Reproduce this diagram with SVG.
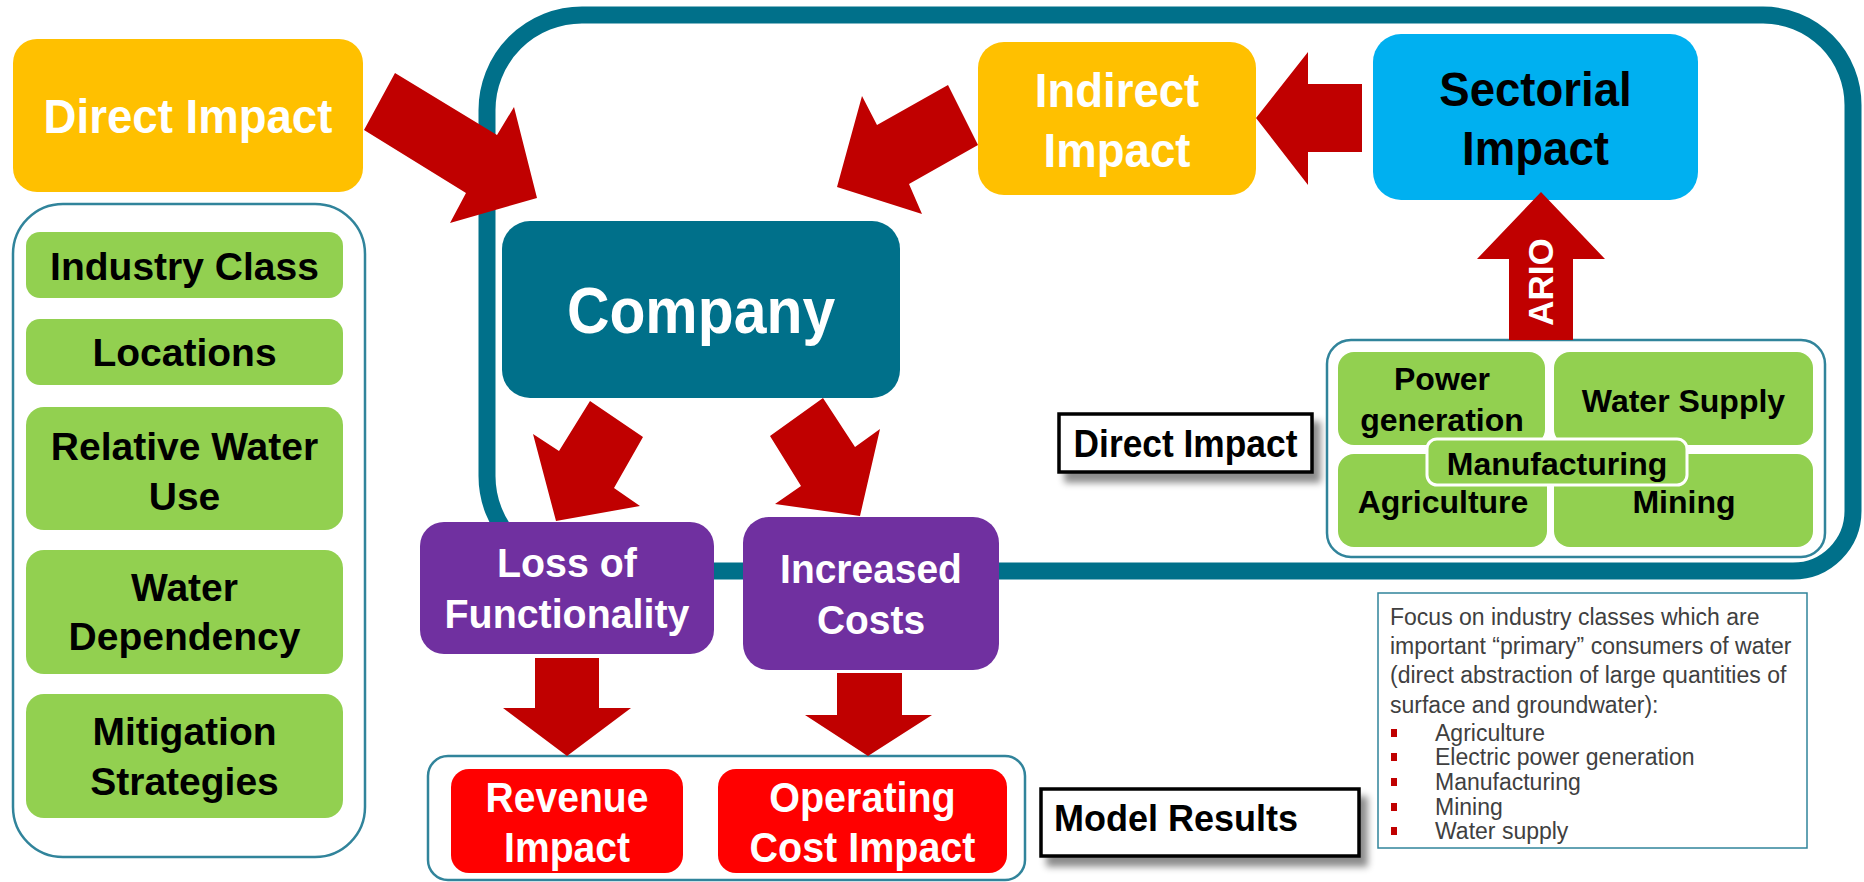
<svg xmlns="http://www.w3.org/2000/svg" width="1864" height="882" viewBox="0 0 1864 882">
  <defs>
    <style>
      .tb { font-family: 'Liberation Sans', Arial, sans-serif; font-weight: bold; text-anchor: middle; }
      .tn { font-family: 'Liberation Sans', Arial, sans-serif; font-size: 23px; fill: #404040; }
      .w { fill: #ffffff; }
      .k { fill: #000000; }
      .yellow { fill: #FFC000; }
      .green { fill: #92D050; }
      .purple { fill: #7030A0; }
      .red { fill: #FF0000; }
      .outline { fill: #ffffff; stroke: #31849B; stroke-width: 2.5; }
      .label { fill: #ffffff; stroke: #000000; stroke-width: 3.5; }
      .arrow { fill: #C00000; }
      .bullet { fill: #C00000; }
    </style>
    <filter id="shadow" x="-10%" y="-20%" width="130%" height="160%">
      <feDropShadow dx="7" dy="9" stdDeviation="3.5" flood-color="#000000" flood-opacity="0.45"/>
    </filter>
  </defs>

  <!-- company boundary frame -->
  <path id="frame" d="M582,15 H1763 A90,90 0 0 1 1853,105 V511 A60,60 0 0 1 1793,571 H582 A95,95 0 0 1 487,476 V110 A95,95 0 0 1 582,15 Z" fill="none" stroke="#00708A" stroke-width="17"/>

  <!-- direct impact (top left) -->
  <g id="direct-impact">
    <rect class="yellow" x="13" y="39" width="350" height="153" rx="24"/>
    <text class="tb w" font-size="48" transform="matrix(0.95,0,0,1,188,0)" x="0" y="133">Direct Impact</text>
  </g>

  <!-- company attributes -->
  <g id="attributes">
    <rect class="outline" x="13" y="204" width="352" height="653" rx="50"/>
    <g id="industry-class">
      <rect class="green" x="26" y="232" width="317" height="66" rx="14"/>
      <text class="tb k" font-size="39" x="184.5" y="280">Industry Class</text>
    </g>
    <g id="locations">
      <rect class="green" x="26" y="319" width="317" height="66" rx="14"/>
      <text class="tb k" font-size="39" x="184.5" y="366">Locations</text>
    </g>
    <g id="relative-water-use">
      <rect class="green" x="26" y="407" width="317" height="123" rx="18"/>
      <text class="tb k" font-size="39" x="184.5" y="460">Relative Water</text>
      <text class="tb k" font-size="39" x="184.5" y="510">Use</text>
    </g>
    <g id="water-dependency">
      <rect class="green" x="26" y="550" width="317" height="124" rx="18"/>
      <text class="tb k" font-size="39" x="184.5" y="601">Water</text>
      <text class="tb k" font-size="39" x="184.5" y="650">Dependency</text>
    </g>
    <g id="mitigation-strategies">
      <rect class="green" x="26" y="694" width="317" height="124" rx="18"/>
      <text class="tb k" font-size="39" x="184.5" y="745">Mitigation</text>
      <text class="tb k" font-size="39" x="184.5" y="795">Strategies</text>
    </g>
  </g>

  <g id="company">
    <rect x="502" y="221" width="398" height="177" rx="28" fill="#00708A"/>
    <text class="tb w" font-size="64" transform="matrix(0.92,0,0,1,701,0)" x="0" y="333">Company</text>
  </g>

  <g id="indirect-impact">
    <rect class="yellow" x="978" y="42" width="278" height="153" rx="26"/>
    <text class="tb w" font-size="49" transform="matrix(0.93,0,0,1,1117,0)" x="0" y="107">Indirect</text>
    <text class="tb w" font-size="49" transform="matrix(0.93,0,0,1,1117,0)" x="0" y="167">Impact</text>
  </g>

  <g id="sectorial-impact">
    <rect x="1373" y="34" width="325" height="166" rx="28" fill="#00B0F0"/>
    <text class="tb k" font-size="49" transform="matrix(0.93,0,0,1,1535.5,0)" x="0" y="106">Sectorial</text>
    <text class="tb k" font-size="49" transform="matrix(0.93,0,0,1,1535.5,0)" x="0" y="165">Impact</text>
  </g>

  <g id="loss-of-functionality">
    <rect class="purple" x="420" y="522" width="294" height="132" rx="24"/>
    <text class="tb w" font-size="41" transform="matrix(0.96,0,0,1,567,0)" x="0" y="577">Loss of</text>
    <text class="tb w" font-size="41" transform="matrix(0.96,0,0,1,567,0)" x="0" y="628">Functionality</text>
  </g>

  <g id="increased-costs">
    <rect class="purple" x="743" y="517" width="256" height="153" rx="26"/>
    <text class="tb w" font-size="41" transform="matrix(0.95,0,0,1,871,0)" x="0" y="583">Increased</text>
    <text class="tb w" font-size="41" transform="matrix(0.95,0,0,1,871,0)" x="0" y="634">Costs</text>
  </g>

  <g id="model-results">
    <rect class="outline" x="428" y="756" width="597" height="124" rx="20"/>
    <g id="revenue-impact">
      <rect class="red" x="451" y="769" width="232" height="104" rx="18"/>
      <text class="tb w" font-size="42" transform="matrix(0.93,0,0,1,567,0)" x="0" y="812">Revenue</text>
      <text class="tb w" font-size="42" transform="matrix(0.93,0,0,1,567,0)" x="0" y="862">Impact</text>
    </g>
    <g id="operating-cost-impact">
      <rect class="red" x="718" y="769" width="289" height="104" rx="18"/>
      <text class="tb w" font-size="42" transform="matrix(0.94,0,0,1,862.5,0)" x="0" y="812">Operating</text>
      <text class="tb w" font-size="42" transform="matrix(0.94,0,0,1,862.5,0)" x="0" y="862">Cost Impact</text>
    </g>
  </g>

  <g id="model-results-label">
    <rect class="label" x="1041" y="789" width="318" height="67" filter="url(#shadow)"/>
    <text class="tb k" font-size="36" x="1054" y="831" text-anchor="start" style="text-anchor:start">Model Results</text>
  </g>

  <g id="direct-impact-label">
    <rect class="label" x="1059" y="414" width="253" height="58" filter="url(#shadow)"/>
    <text class="tb k" font-size="38" transform="matrix(0.93,0,0,1,1185.5,0)" x="0" y="457">Direct Impact</text>
  </g>

  <!-- sectors -->
  <g id="sectors">
    <rect class="outline" x="1327" y="340" width="498" height="217" rx="24"/>
    <g id="power-generation">
      <rect class="green" x="1338" y="352" width="207" height="93" rx="16"/>
      <text class="tb k" font-size="32" x="1442" y="390">Power</text>
      <text class="tb k" font-size="32" x="1442" y="431">generation</text>
    </g>
    <g id="water-supply">
      <rect class="green" x="1554" y="352" width="259" height="93" rx="16"/>
      <text class="tb k" font-size="32" x="1683.5" y="412">Water Supply</text>
    </g>
    <g id="agriculture">
      <rect class="green" x="1338" y="454" width="209" height="93" rx="16"/>
      <text class="tb k" font-size="32" x="1443" y="513">Agriculture</text>
    </g>
    <g id="mining">
      <rect class="green" x="1554" y="454" width="259" height="93" rx="16"/>
      <text class="tb k" font-size="32" x="1684" y="513">Mining</text>
    </g>
    <g id="manufacturing">
      <rect class="green" x="1427" y="439" width="260" height="46" rx="10" stroke="#ffffff" stroke-width="3"/>
      <text class="tb k" font-size="32" x="1557" y="475">Manufacturing</text>
    </g>
  </g>

  <!-- connectors -->
  <g id="connectors">
    <polygon class="arrow" points="364,130 395,73 497,135 514,107 537,198 450,223 466,193"/>
    <polygon class="arrow" points="978,145 948,85 877,125 862,96 837,187 922,214 909,184"/>
    <polygon class="arrow" points="1362,84 1308,84 1308,52 1256,118 1308,185 1308,152 1362,152"/>
    <polygon class="arrow" points="590,401 643,437 614,488 640,506 556,521 533,434 559,451"/>
    <polygon class="arrow" points="823,398 855,447 880,429 860,516 775,504 801,486 770,436"/>
    <polygon class="arrow" points="535,658 599,658 599,708 631,708 567,756 503,708 535,708"/>
    <polygon class="arrow" points="837,673 902,673 902,715 932,715 868,756 805,715 837,715"/>
    <g id="ario">
      <polygon class="arrow" points="1509,340 1509,259 1477,259 1541,192 1605,259 1573,259 1573,340"/>
      <text class="tb w" font-size="35" transform="translate(1553,282) rotate(-90)" x="0" y="0">ARIO</text>
    </g>
  </g>

  <!-- note on industry classes -->
  <g id="note">
    <rect x="1378" y="593" width="429" height="255" fill="#ffffff" stroke="#31849B" stroke-width="1.5"/>
    <text class="tn" x="1390" y="625">Focus on industry classes which are</text>
    <text class="tn" x="1390" y="654">important “primary” consumers of water</text>
    <text class="tn" x="1390" y="683">(direct abstraction of large quantities of</text>
    <text class="tn" x="1390" y="713">surface and groundwater):</text>
    <rect class="bullet" x="1391" y="729" width="6" height="8"/>
    <rect class="bullet" x="1391" y="753" width="6" height="8"/>
    <rect class="bullet" x="1391" y="778" width="6" height="8"/>
    <rect class="bullet" x="1391" y="803" width="6" height="8"/>
    <rect class="bullet" x="1391" y="827" width="6" height="8"/>
    <text class="tn" x="1435" y="741">Agriculture</text>
    <text class="tn" x="1435" y="765">Electric power generation</text>
    <text class="tn" x="1435" y="790">Manufacturing</text>
    <text class="tn" x="1435" y="815">Mining</text>
    <text class="tn" x="1435" y="839">Water supply</text>
  </g>
</svg>
